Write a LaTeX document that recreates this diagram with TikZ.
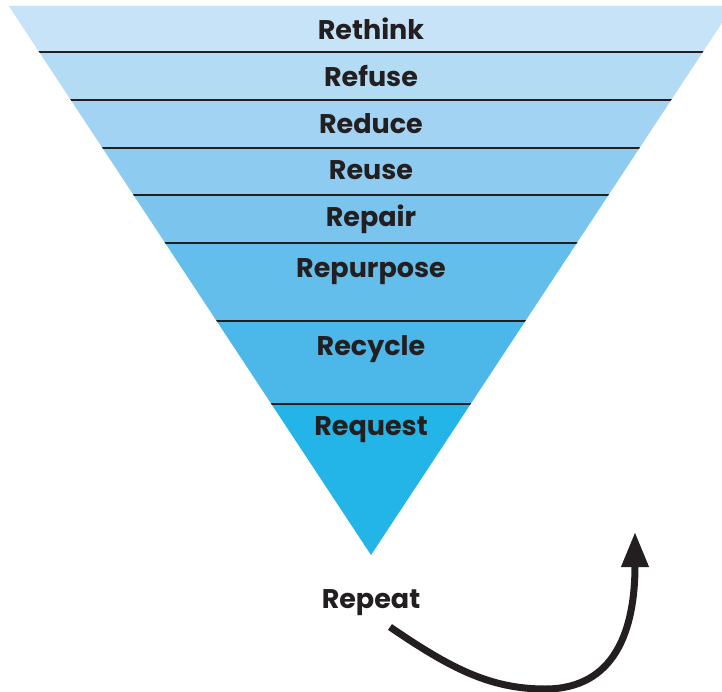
\documentclass[tikz,border=0pt]{standalone}
\usepackage{fontspec}
\setmainfont{Poppins}[BoldFont={* Bold}]
\usetikzlibrary{arrows.meta}
\definecolor{ink}{HTML}{231F20}
\definecolor{bandA}{HTML}{C7E3F7}
\definecolor{bandB}{HTML}{B4DBF4}
\definecolor{bandC}{HTML}{A2D3F2}
\definecolor{bandD}{HTML}{8ECBF0}
\definecolor{bandE}{HTML}{7AC4EE}
\definecolor{bandF}{HTML}{63BEEC}
\definecolor{bandG}{HTML}{4CB8EA}
\definecolor{bandH}{HTML}{23B4E8}
\tikzset{
  label/.style={font=\fontsize{27}{31}\selectfont\bfseries, text=ink, anchor=base, inner sep=0pt},
  divider/.style={draw=ink, line width=2.4pt},
}
\begin{document}
\begin{tikzpicture}[x=1pt,y=-1pt]
\useasboundingbox (0,0) rectangle (722,692);
% inverted triangle split into horizontal bands
\begin{scope}
  \clip (8.8,6) -- (733.2,6) -- (371,555) -- cycle;
  \fill[bandA] (0,0)   rectangle (740,52);
  \fill[bandB] (0,52)  rectangle (740,100);
  \fill[bandC] (0,100) rectangle (740,148);
  \fill[bandD] (0,148) rectangle (740,195);
  \fill[bandE] (0,195) rectangle (740,243);
  \fill[bandF] (0,243) rectangle (740,321);
  \fill[bandG] (0,321) rectangle (740,404);
  \fill[bandH] (0,404) rectangle (740,560);
  \foreach \yy in {52,100,148,195,243,321,404}
    \draw[divider] (0,\yy) -- (740,\yy);
\end{scope}
% band labels
\node[label] (rethink)   at (371,40)  {Rethink};
\node[label] (refuse)    at (371,87)  {Refuse};
\node[label] (reduce)    at (371,134) {Reduce};
\node[label] (reuse)     at (371,180) {Reuse};
\node[label] (repair)    at (371,227) {Repair};
\node[label] (repurpose) at (371,278) {Repurpose};
\node[label] (recycle)   at (371,355) {Recycle};
\node[label] (request)   at (371,435) {Request};
\node[label] (repeat)    at (371,608) {Repeat};
% curved return arrow
\coordinate (arrowstart) at (390,627);
\coordinate (arrowlow)   at (545,689);
\coordinate (arrowtip)   at (635,532);
\draw[ink, line width=7pt, -{Triangle[width=26pt,length=35pt]}]
  (arrowstart) .. controls (450,668) and (490,689) .. (arrowlow)
  .. controls (615,689) and (635,630) .. (arrowtip);
\end{tikzpicture}
\end{document}
